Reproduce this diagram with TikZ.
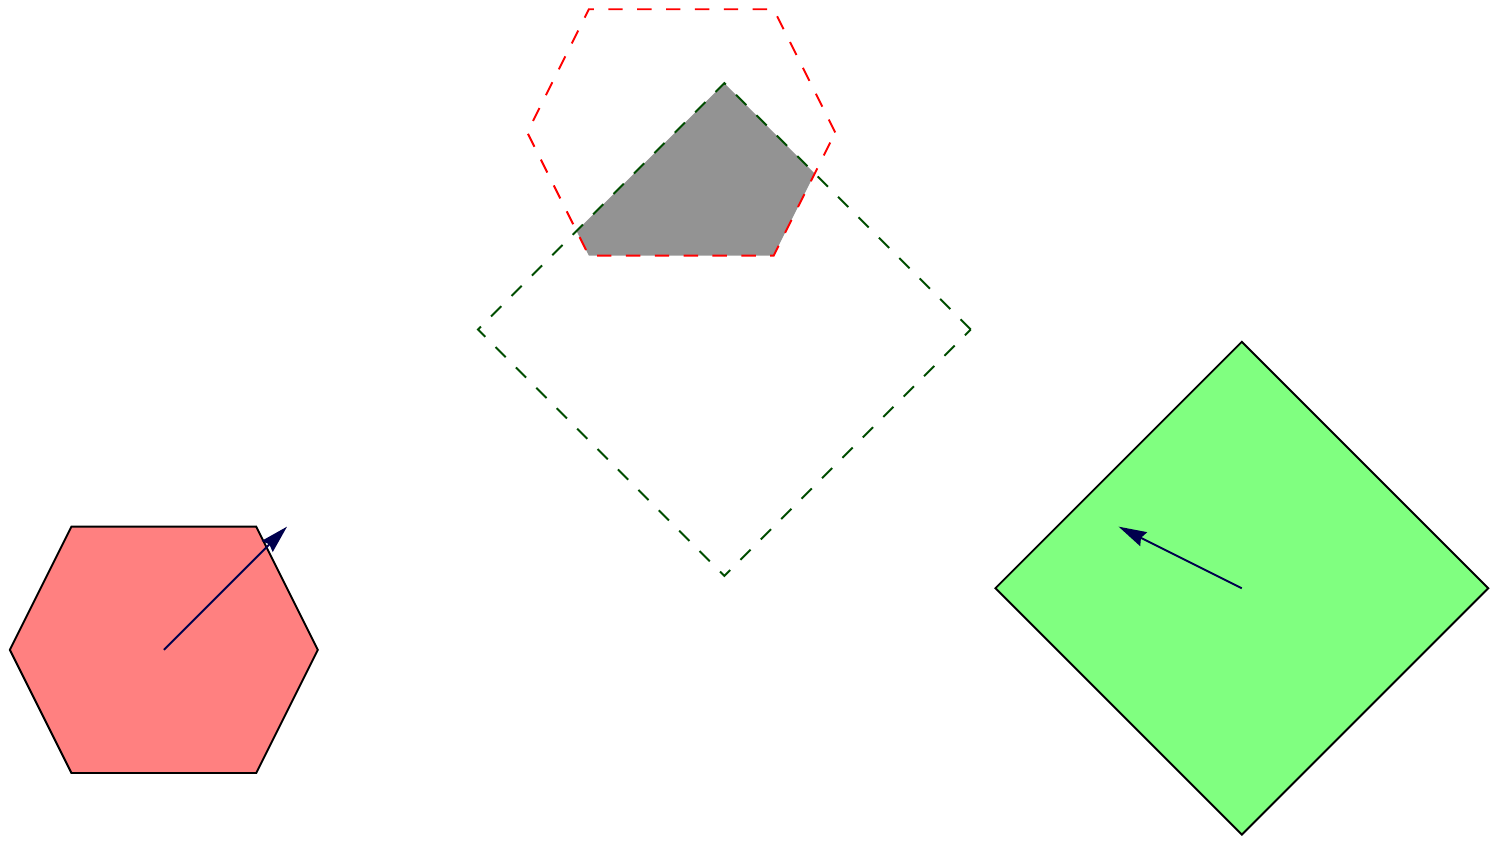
\documentclass[tikz,border=0pt]{standalone}
\usetikzlibrary{arrows.meta}
\definecolor{velblue}{RGB}{0,0,77}
\definecolor{ghostgreen}{RGB}{0,77,0}
\newcommand{\hexshape}{(2.5,0) -- (1.5,2) -- (-1.5,2) -- (-2.5,0) -- (-1.5,-2) -- (1.5,-2) -- cycle}
\newcommand{\sqshape}{(4,0) -- (0,4) -- (-4,0) -- (0,-4) -- cycle}
\tikzset{
  hexbody/.style={draw=black, fill=red!50},
  sqbody/.style={draw=black, fill=green!50},
  velarr/.style={-{Stealth[length=5.8pt,width=3.2pt,inset=0.6pt]}, velblue},
  hexghost/.style={draw=red, dashed},
  sqghost/.style={draw=ghostgreen, dashed},
  overlap/.style={fill=gray!85},
}
\begin{document}
\begin{tikzpicture}[x=0.45cm, y=0.45cm]
  \useasboundingbox (-2.66,-3.17) rectangle (21.66,10.55);
  % centres now and after the move
  \coordinate (hexA) at (0,0);
  \coordinate (sqA) at (17.5,1);
  \coordinate (hexB) at (8.4,8.4);
  \coordinate (sqB) at (9.1,5.2);
  \coordinate (velA) at (2,2);
  \coordinate (velB) at (15.5,2);

  \path[hexbody, shift={(hexA)}] \hexshape;
  \path[sqbody, shift={(sqA)}] \sqshape;
  \draw[velarr] (hexA) -- (velA);
  \draw[velarr] (sqA) -- (velB);

  % overlap of the moved shapes
  \begin{scope}
    \clip[shift={(hexB)}] \hexshape;
    \path[overlap, shift={(sqB)}] \sqshape;
  \end{scope}
  \path[hexghost, shift={(hexB)}] \hexshape;
  \path[sqghost, shift={(sqB)}] \sqshape;
\end{tikzpicture}
\end{document}
